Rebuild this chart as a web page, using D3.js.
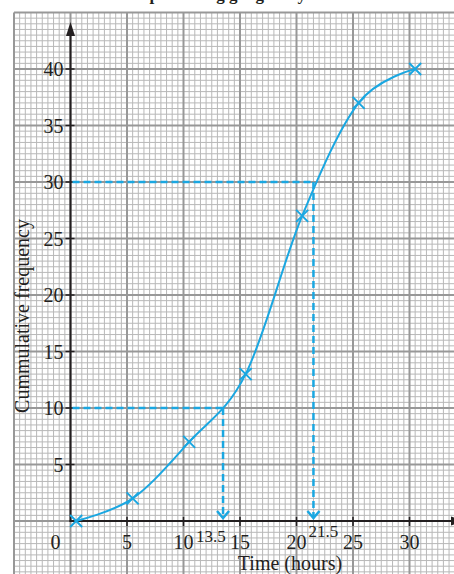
<!DOCTYPE html>
<html><head><meta charset="utf-8">
<script src="https://cdn.jsdelivr.net/npm/d3@7"></script>
<style>html,body{margin:0;padding:0;background:#fff;overflow:hidden}</style>
</head><body>
<script>
// ---- data ----
const upperBounds = [0.5, 5.5, 10.5, 15.5, 20.5, 25.5, 30.5];
const cumFreq = [0, 2, 7, 13, 27, 37, 40];
const xTicks = [5, 10, 15, 20, 25, 30];
const yTicks = [5, 10, 15, 20, 25, 30, 35, 40];
const readFreq = [10, 30];
const readTime = [13.5, 21.5];
const titleText = "Time spent using gadgets by students";
const xLabel = "Time (hours)";
const yLabel = "Cummulative frequency";

const W = 454, H = 574;
const unit = 11.3;
const ox = 70.5, oy = 521;
const x = d3.scaleLinear().domain([0, 35]).range([ox, ox + 35 * unit]);
const y = d3.scaleLinear().domain([0, 45]).range([oy, oy - 45 * unit]);

const svg = d3.select("body").append("svg").attr("width", W).attr("height", H);
const blue = "#1aa7e1";
const ink = "#231f20";

// grid
const gx0 = x(-5), gy0 = y(45);
const grid = svg.append("g");
const minorX = d3.range(-5, 35.01, 0.5), minorY = d3.range(-5, 45.01, 0.5);
grid.selectAll(".mvx").data(minorX.filter(v => Math.abs(v % 5) > 0.01)).join("line")
  .attr("x1", d => x(d)).attr("x2", d => x(d)).attr("y1", gy0).attr("y2", H)
  .attr("stroke", "#b8b8b8").attr("stroke-width", 1);
grid.selectAll(".mhy").data(minorY.filter(v => Math.abs(v % 5) > 0.01)).join("line")
  .attr("y1", d => y(d)).attr("y2", d => y(d)).attr("x1", gx0).attr("x2", W)
  .attr("stroke", "#b8b8b8").attr("stroke-width", 1);
const majX = d3.range(-5, 35.01, 5), majY = d3.range(-5, 45.01, 5);
grid.selectAll(".Mvx").data(majX).join("line")
  .attr("x1", d => x(d)).attr("x2", d => x(d)).attr("y1", gy0).attr("y2", H)
  .attr("stroke", "#989898").attr("stroke-width", 2);
grid.selectAll(".Mhy").data(majY).join("line")
  .attr("y1", d => y(d)).attr("y2", d => y(d)).attr("x1", gx0).attr("x2", W)
  .attr("stroke", "#989898").attr("stroke-width", 2);

// title (cut off at top, as in the reference)
svg.append("text").attr("x", 236).attr("y", -0.5).attr("text-anchor", "middle")
  .attr("font-family", "Liberation Serif").attr("font-weight", "bold").attr("font-size", 17)
  .attr("fill", ink).text(titleText);

// axes
const ax = svg.append("g");
ax.append("line").attr("x1", ox).attr("x2", ox).attr("y1", oy + 1).attr("y2", 34)
  .attr("stroke", ink).attr("stroke-width", 2);
ax.append("path").attr("d", `M${ox},22 L${ox - 4.5},36 L${ox + 4.5},36 Z`).attr("fill", ink);
ax.append("line").attr("x1", ox - 1).attr("x2", W).attr("y1", oy).attr("y2", oy)
  .attr("stroke", ink).attr("stroke-width", 2);
ax.append("path").attr("d", `M${W + 10},${oy} L${W - 3},${oy - 4.5} L${W - 3},${oy + 4.5} Z`).attr("fill", ink);

ax.selectAll(".yt").data(yTicks).join("line")
  .attr("x1", ox - 5).attr("x2", ox + 4).attr("y1", d => y(d)).attr("y2", d => y(d))
  .attr("stroke", ink).attr("stroke-width", 1.5);
ax.selectAll(".xt").data(xTicks).join("line")
  .attr("y1", oy - 4).attr("y2", oy + 5).attr("x1", d => x(d)).attr("x2", d => x(d))
  .attr("stroke", ink).attr("stroke-width", 1.5);

const font = "Liberation Serif";
ax.selectAll(".yl").data(yTicks).join("text")
  .attr("x", ox - 7).attr("y", d => y(d) + 7).attr("text-anchor", "end")
  .attr("font-family", font).attr("font-size", 20).attr("fill", ink).text(d => d);
ax.selectAll(".xl").data(xTicks).join("text")
  .attr("x", d => x(d)).attr("y", oy + 28).attr("text-anchor", "middle")
  .attr("font-family", font).attr("font-size", 20).attr("fill", ink).text(d => d);
ax.append("text").attr("x", ox - 15).attr("y", oy + 28).attr("text-anchor", "middle")
  .attr("font-family", font).attr("font-size", 20).attr("fill", ink).text("0");

// read-off labels
const roOffsets = [{dx: -27, dy: 21}, {dx: -5, dy: 16}];
ax.selectAll(".rl").data(readTime).join("text")
  .attr("x", (d, i) => x(d) + roOffsets[i].dx).attr("y", (d, i) => oy + roOffsets[i].dy)
  .attr("font-family", font).attr("font-size", 17).attr("fill", ink).text(d => d);

ax.append("text").attr("x", 290).attr("y", 570).attr("text-anchor", "middle")
  .attr("font-family", font).attr("font-size", 20).attr("fill", ink).text(xLabel);
ax.append("text").attr("transform", "translate(29,316) rotate(-90)").attr("text-anchor", "middle")
  .attr("font-family", font).attr("font-size", 20).attr("fill", ink).text(yLabel);

// dashed read-off lines
const dash = svg.append("g").attr("stroke", blue).attr("stroke-width", 2.5).attr("fill", "none");
readFreq.forEach((f, i) => {
  const t = readTime[i];
  dash.append("line").attr("x1", ox + 2).attr("x2", x(t)).attr("y1", y(f)).attr("y2", y(f))
    .attr("stroke-dasharray", "7,4");
  dash.append("line").attr("x1", x(t)).attr("x2", x(t)).attr("y1", y(f)).attr("y2", oy - 3)
    .attr("stroke-dasharray", "7,4");
  dash.append("path").attr("d", `M${x(t) - 6},${oy - 10} L${x(t)},${oy - 3} L${x(t) + 6},${oy - 10}`);
});

// curve
const pts = upperBounds.map((u, i) => [u, cumFreq[i]]);
svg.append("path").datum(pts)
  .attr("d", d3.line().x(d => x(d[0])).y(d => y(d[1])).curve(d3.curveCardinal.tension(0)))
  .attr("fill", "none").attr("stroke", blue).attr("stroke-width", 2);

// crosses
const cs = 6;
svg.selectAll(".cross").data(pts).join("path")
  .attr("d", d => {
    const cx = x(d[0]), cy = y(d[1]);
    return `M${cx - cs},${cy - cs}L${cx + cs},${cy + cs}M${cx - cs},${cy + cs}L${cx + cs},${cy - cs}`;
  })
  .attr("stroke", blue).attr("stroke-width", 2).attr("fill", "none");
</script>
</body></html>
